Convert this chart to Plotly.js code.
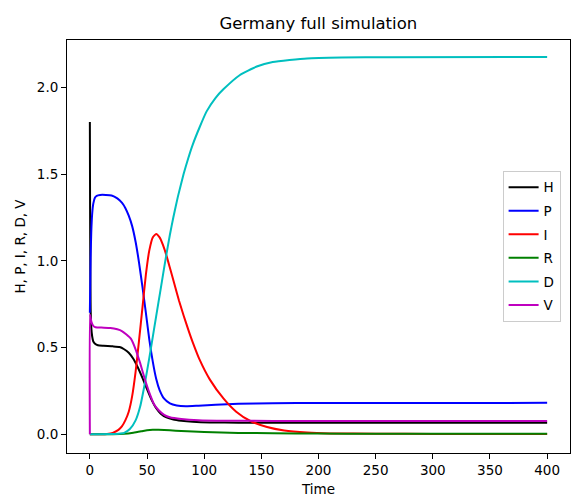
<!DOCTYPE html>
<html>
<head>
<meta charset="utf-8">
<script src="https://cdn.plot.ly/plotly-3.0.1.min.js"></script>
<style>html,body{margin:0;padding:0;background:#fff;}#chart{width:571px;height:500px;}</style>
</head>
<body>
<div id="chart"></div>
<script>
// Time points and values for each compartment
var tH = [0, 0.2, 0.4, 0.7, 1.2, 2, 3, 4.5, 7, 12, 20, 26, 30, 34, 38, 42, 46, 50, 54, 58, 62, 67, 73, 80, 90, 105, 130, 200, 400];
var H  = [1.80, 1.30, 0.95, 0.72, 0.62, 0.565, 0.535, 0.522, 0.513, 0.510, 0.507, 0.503, 0.49, 0.47, 0.435, 0.385, 0.325, 0.26, 0.198, 0.15, 0.119, 0.097, 0.085, 0.078, 0.072, 0.068, 0.067, 0.067, 0.067];

var tP = [0, 0.3, 0.7, 1.2, 2, 3, 4.5, 6, 9, 14, 19, 24, 28, 31, 34, 37, 40, 43, 46, 49, 52, 55, 58, 61, 65, 70, 76, 84, 95, 110, 130, 160, 200, 400];
var P  = [0.70, 0.85, 1.02, 1.16, 1.27, 1.33, 1.365, 1.375, 1.38, 1.38, 1.377, 1.36, 1.335, 1.305, 1.26, 1.20, 1.11, 0.99, 0.85, 0.70, 0.545, 0.42, 0.32, 0.255, 0.205, 0.178, 0.166, 0.162, 0.165, 0.17, 0.176, 0.179, 0.18, 0.181];

var tI = [0, 10, 15, 20, 25, 28, 31, 34, 37, 40, 43, 46, 49, 52, 55, 58, 61, 64, 67, 70, 74, 78, 82, 86, 90, 96, 105, 117, 128, 140, 155, 170, 190, 210, 250, 300, 400];
var I  = [0, 0.0005, 0.002, 0.008, 0.025, 0.045, 0.08, 0.13, 0.22, 0.36, 0.54, 0.73, 0.92, 1.06, 1.135, 1.155, 1.135, 1.09, 1.03, 0.96, 0.865, 0.77, 0.685, 0.605, 0.53, 0.43, 0.315, 0.205, 0.13, 0.078, 0.042, 0.022, 0.01, 0.005, 0.003, 0.002, 0.002];

var tR = [0, 20, 30, 38, 45, 50, 55, 60, 70, 80, 100, 130, 160, 200, 250, 300, 400];
var R  = [0, 0.0005, 0.003, 0.009, 0.017, 0.023, 0.026, 0.026, 0.023, 0.019, 0.013, 0.008, 0.006, 0.004, 0.003, 0.003, 0.003];

var tD = [0, 20, 25, 30, 35, 40, 44, 48, 52, 56, 60, 63, 66.5, 70, 73, 77, 82, 86, 90, 96, 102, 110, 117, 131, 146, 160, 190, 220, 260, 400];
var D  = [0, 0.001, 0.003, 0.008, 0.03, 0.08, 0.16, 0.29, 0.44, 0.6, 0.76, 0.88, 1.02, 1.15, 1.25, 1.37, 1.50, 1.59, 1.67, 1.77, 1.86, 1.94, 1.99, 2.07, 2.12, 2.146, 2.167, 2.172, 2.174, 2.175];

var tV = [0, 0.01, 0.5, 1.5, 3, 5, 10, 18, 24, 28, 32, 36, 40, 44, 48, 52, 56, 60, 65, 70, 80, 95, 120, 160, 400];
var V  = [0, 0.69, 0.675, 0.645, 0.625, 0.617, 0.615, 0.613, 0.605, 0.595, 0.575, 0.55, 0.49, 0.41, 0.32, 0.24, 0.175, 0.14, 0.112, 0.098, 0.088, 0.081, 0.078, 0.077, 0.077];

var names  = ['H', 'P', 'I', 'R', 'D', 'V'];
var colors = ['#000000', '#0000ff', '#ff0000', '#008000', '#00bfbf', '#bf00bf'];
var xTickVals = [0, 50, 100, 150, 200, 250, 300, 350, 400];
var yTickVals = [0, 0.5, 1.0, 1.5, 2.0];
var yTickText = ['0.0', '0.5', '1.0', '1.5', '2.0'];

var xs = [tH, tP, tI, tR, tD, tV];
var ys = [H, P, I, R, D, V];

var FONT = 'DejaVu Sans, sans-serif';
var traces = names.map(function (n, i) {
  return {
    x: xs[i], y: ys[i], name: n, type: 'scatter', mode: 'lines',
    legendgroup: n,
    line: {color: colors[i], width: 2, shape: 'spline', smoothing: 0.5}
  };
});

var axisCommon = {
  showline: true, mirror: true, linecolor: '#000', linewidth: 1,
  showgrid: false, zeroline: false, ticks: 'outside', ticklen: 5,
  tickcolor: '#000', tickwidth: 1,
  tickfont: {family: FONT, size: 13.5, color: '#000'}
};

var layout = {
  width: 571, height: 500,
  margin: {l: 67, r: 1, t: 40, b: 47},
  paper_bgcolor: '#fff', plot_bgcolor: '#fff',
  font: {family: FONT, size: 13.5, color: '#000'},
  title: {text: 'Germany full simulation', font: {family: FONT, size: 16.5, color: '#000'},
          x: 0.5575, xanchor: 'center', y: 0.954, yref: 'container', yanchor: 'middle'},
  xaxis: Object.assign({}, axisCommon, {
    range: [-20, 420], tickmode: 'array', tickvals: xTickVals,
    title: {text: 'Time', font: {family: FONT, size: 13.5, color: '#000'}, standoff: 7}
  }),
  yaxis: Object.assign({}, axisCommon, {
    range: [-0.108, 2.273], tickmode: 'array', tickvals: yTickVals, ticktext: yTickText,
    title: {text: 'H, P, I, R, D, V', font: {family: FONT, size: 13.5, color: '#000'}, standoff: 8}
  }),
  showlegend: true,
  legend: {
    x: 0.866, y: 0.683, xanchor: 'left', yanchor: 'top',
    bgcolor: 'rgba(255,255,255,0.8)', bordercolor: '#cccccc', borderwidth: 1,
    font: {family: FONT, size: 13.5, color: '#000'},
    tracegroupgap: 3
  }
};

Plotly.newPlot('chart', traces, layout, {displayModeBar: false, staticPlot: true});
</script>
</body>
</html>
